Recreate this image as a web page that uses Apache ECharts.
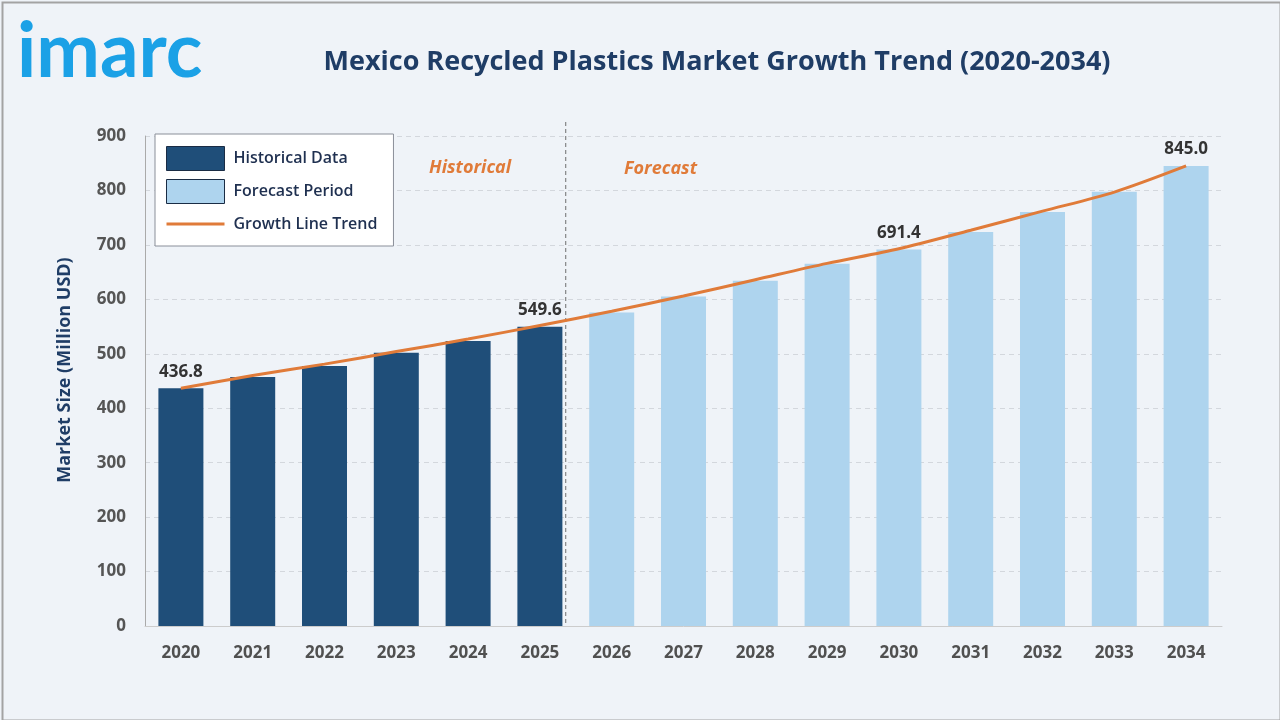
<!DOCTYPE html>
<html>
<head>
<meta charset="utf-8">
<script src="https://cdn.jsdelivr.net/npm/echarts@6/dist/echarts.min.js"></script>
<style>
html,body{margin:0;padding:0;background:#eff3f8;}
#chart{width:1280px;height:720px;}
</style>
</head>
<body>
<div id="chart"></div>
<script>
const years = ['2020','2021','2022','2023','2024','2025','2026','2027','2028','2029','2030','2031','2032','2033','2034'];
const historical = [436.8, 457.4, 477.6, 502.0, 523.5, 549.6, null, null, null, null, null, null, null, null, null];
const forecast = [null, null, null, null, null, null, 576.0, 605.0, 634.0, 665.5, 691.4, 723.7, 760.5, 797.7, 845.0];
const trend = [436.8, 460.0, 481.0, 504.0, 527.0, 552.0, 578.0, 606.0, 636.0, 666.0, 693.0, 727.0, 762.0, 797.0, 845.0];
const labelled = ['2020','2025','2030','2034'];
const yTicks = [0, 100, 200, 300, 400, 500, 600, 700, 800, 900];

const FONT = '"Open Sans", "Noto Sans", sans-serif';
const chart = echarts.init(document.getElementById('chart'));

function lbl(p){ return labelled.indexOf(years[p.dataIndex]) >= 0 && p.value != null ? Number(p.value).toFixed(1) : ''; }

const lineIcon = 'path://M0,0L58,0L58,0.01L0,0.01Z M0,10.5L58,10.5L58,13.5L0,13.5Z M0,23.99L58,23.99L58,24L0,24Z';

const option = {
  backgroundColor: '#eff3f8',
  animation: false,
  grid: {left: 145, right: 58, top: 136, bottom: 94, containLabel: false},
  xAxis: {
    type: 'category', data: years,
    axisLine: {show: true, lineStyle: {color: '#cccccc', width: 1}},
    axisTick: {show: false},
    axisLabel: {color: '#505050', fontFamily: FONT, fontWeight: 'bold', fontSize: 17, margin: 19}
  },
  yAxis: {
    type: 'value', min: yTicks[0], max: yTicks[yTicks.length-1], interval: 100,
    axisLine: {show: true, lineStyle: {color: '#aaaaaa', width: 1}},
    axisTick: {show: false},
    axisLabel: {color: '#555555', fontFamily: FONT, fontWeight: 'bold', fontSize: 17, margin: 19},
    splitLine: {show: true, lineStyle: {color: '#d3d7dd', type: [5, 4], width: 1}}
  },
  legend: {
    orient: 'vertical', left: 155, top: 134,
    backgroundColor: '#ffffff', borderColor: '#8a8f99', borderWidth: 1,
    padding: [12, 16, 10, 11], itemGap: 8,
    itemWidth: 58, itemHeight: 24,
    textStyle: {color: '#1f3050', fontFamily: FONT, fontSize: 16, fontWeight: 600, padding: [0,0,0,4]},
    data: [
      {name: 'Historical Data', icon: 'rect', itemStyle: {color: '#1f4e79', borderColor: '#1a2c44', borderWidth: 1}},
      {name: 'Forecast Period', icon: 'rect', itemStyle: {color: '#aed4ee', borderColor: '#1a2c44', borderWidth: 1}},
      {name: 'Growth Line Trend', icon: lineIcon, itemStyle: {color: '#e07b39', borderWidth: 0}}
    ]
  },
  series: [
    {
      name: 'Historical Data', type: 'bar', data: historical, barWidth: 45, barGap: '-100%',
      itemStyle: {color: '#1f4e79'},
      label: {show: true, position: 'top', distance: 8, formatter: lbl, color: '#333333', fontFamily: FONT, fontWeight: 'bold', fontSize: 17}
    },
    {
      name: 'Forecast Period', type: 'bar', data: forecast, barWidth: 45, barGap: '-100%',
      itemStyle: {color: '#aed4ee'},
      label: {show: true, position: 'top', distance: 8, formatter: lbl, color: '#333333', fontFamily: FONT, fontWeight: 'bold', fontSize: 17}
    },
    {
      name: 'Growth Line Trend', type: 'line', data: trend, smooth: 0.3, symbol: 'none', showSymbol: false, z: 5,
      lineStyle: {color: '#e07b39', width: 3},
      itemStyle: {color: '#e07b39'}
    }
  ]
};
chart.setOption(option);

const px = (c) => chart.convertToPixel({xAxisIndex: 0}, c);
const x25 = px('2025');
const x26 = px('2026');
const band = x26 - x25;
const xDiv = x25 + band * 0.36;
const yTop = chart.convertToPixel({yAxisIndex: 0}, 900) - 14;
const yBot = chart.convertToPixel({yAxisIndex: 0}, 0);

chart.setOption({
  graphic: [
    {type: 'rect', left: 0, top: 0, shape: {x: 1, y: 1, width: 1278, height: 718}, style: {fill: 'none', stroke: '#a3a3a3', lineWidth: 2}, silent: true, z: 100},
    {type: 'line', shape: {x1: xDiv, y1: yTop, x2: xDiv, y2: yBot}, style: {stroke: '#6f6f6f', lineWidth: 1, lineDash: [4, 3]}, z: 1},
    {type: 'text', x: 717, y: 62, style: {text: 'Mexico Recycled Plastics Market Growth Trend (2020-2034)', fill: '#1f3d66', font: 'bold 27px ' + FONT, textAlign: 'center', textVerticalAlign: 'middle'}, z: 10},
    {type: 'text', x: 17, y: 52, style: {text: 'imarc', fill: '#1ba1e6', font: 'bold 76px "Lato", "Noto Sans", sans-serif', textAlign: 'left', textVerticalAlign: 'middle'}, z: 10},
    {type: 'text', x: 65, y: 370, rotation: Math.PI / 2, style: {text: 'Market Size (Million USD)', fill: '#1f3d66', font: 'bold 18px ' + FONT, textAlign: 'center', textVerticalAlign: 'middle'}, z: 10},
    {type: 'text', x: px('2024') + 2, y: 168, style: {text: 'Historical', fill: '#e07b39', font: 'italic bold 18px ' + FONT, textAlign: 'center', textVerticalAlign: 'middle'}, z: 10},
    {type: 'text', x: x26 + band * 0.68, y: 169, style: {text: 'Forecast', fill: '#e07b39', font: 'italic bold 18px ' + FONT, textAlign: 'center', textVerticalAlign: 'middle'}, z: 10}
  ]
});
</script>
</body>
</html>
